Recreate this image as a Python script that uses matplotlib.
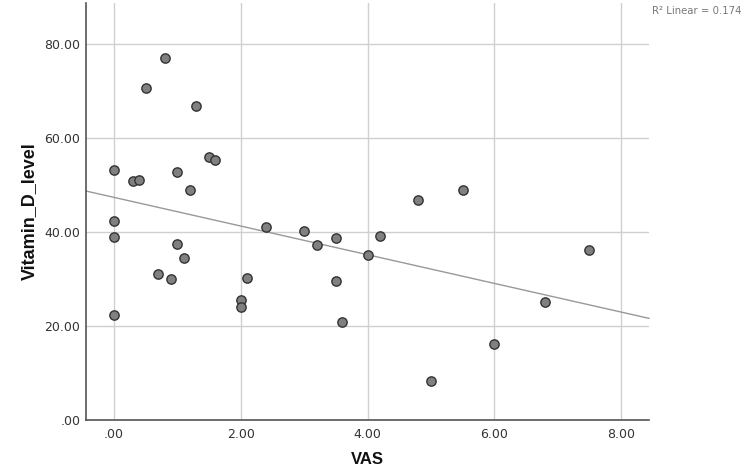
import numpy as np
import matplotlib
matplotlib.use("Agg")
import matplotlib.pyplot as plt
from matplotlib.ticker import FuncFormatter

vas = [0, 0, 0, 0, 0.3, 0.4, 0.5, 0.8, 0.7, 0.9, 1.0, 1.0, 1.1, 1.2, 1.3, 1.5, 1.6,
       2.0, 2.0, 2.1, 2.4, 3.0, 3.2, 3.5, 3.5, 3.6, 4.0, 4.2, 4.8, 5.0, 5.5, 6.0, 6.8, 7.5]
vitamin_d = [53.3, 42.3, 38.9, 22.4, 51.0, 51.2, 70.8, 77.1, 31.1, 30.0, 52.9, 37.4, 34.4,
             48.9, 66.8, 55.9, 55.3, 25.6, 24.1, 30.2, 41.1, 40.2, 37.3, 38.7, 29.7, 20.9,
             35.1, 39.1, 46.8, 8.4, 48.9, 16.2, 25.2, 36.3]
x_ticks = [0, 2, 4, 6, 8]
y_ticks = [0, 20, 40, 60, 80]
r2_label = "R\u00b2 Linear = 0.174"

fig = plt.figure(figsize=(7.49, 4.76), dpi=100)
ax = fig.add_axes([86/749, 1-420/476, (649-86)/749, (420-3)/476])

xmin, xmax = -0.44, 8.44
ax.set_xlim(xmin, xmax)
ax.set_ylim(0, 88.8)
ax.set_xticks(x_ticks)
ax.set_yticks(y_ticks)
fmt = FuncFormatter(lambda v, p: (".00" if v == 0 else f"{v:.2f}"))
ax.xaxis.set_major_formatter(fmt)
ax.yaxis.set_major_formatter(fmt)
ax.tick_params(axis="x", length=0, labelsize=9, colors="#333333", pad=6)
ax.tick_params(axis="y", length=0, labelsize=9, colors="#333333", pad=4)
ax.grid(True, color="#d0d0d0", linewidth=1.0)
ax.set_axisbelow(True)
for s in ["top", "right"]:
    ax.spines[s].set_visible(False)
for s in ["left", "bottom"]:
    ax.spines[s].set_color("#555555")
    ax.spines[s].set_linewidth(1.2)

coef = np.polyfit(vas, vitamin_d, 1)
xl = np.array([xmin, xmax])
ax.plot(xl, np.polyval(coef, xl), color="#999999", linewidth=1.0, zorder=2, clip_on=False)

ax.scatter(vas, vitamin_d, s=45, facecolor="#808080", edgecolor="#333333",
           linewidth=1.0, zorder=3, clip_on=False)

ax.set_xlabel("VAS", fontsize=12, fontweight="bold", family="Liberation Sans",
              color="#111111", labelpad=8)
ax.set_ylabel("Vitamin_D_level", fontsize=13, fontweight="bold", family="Liberation Sans",
              color="#111111", labelpad=5)

fig.text(652/749, 1-11/476, r2_label, fontsize=7.3, color="#777777", va="center", ha="left")

fig.savefig("out.png", dpi=100)
